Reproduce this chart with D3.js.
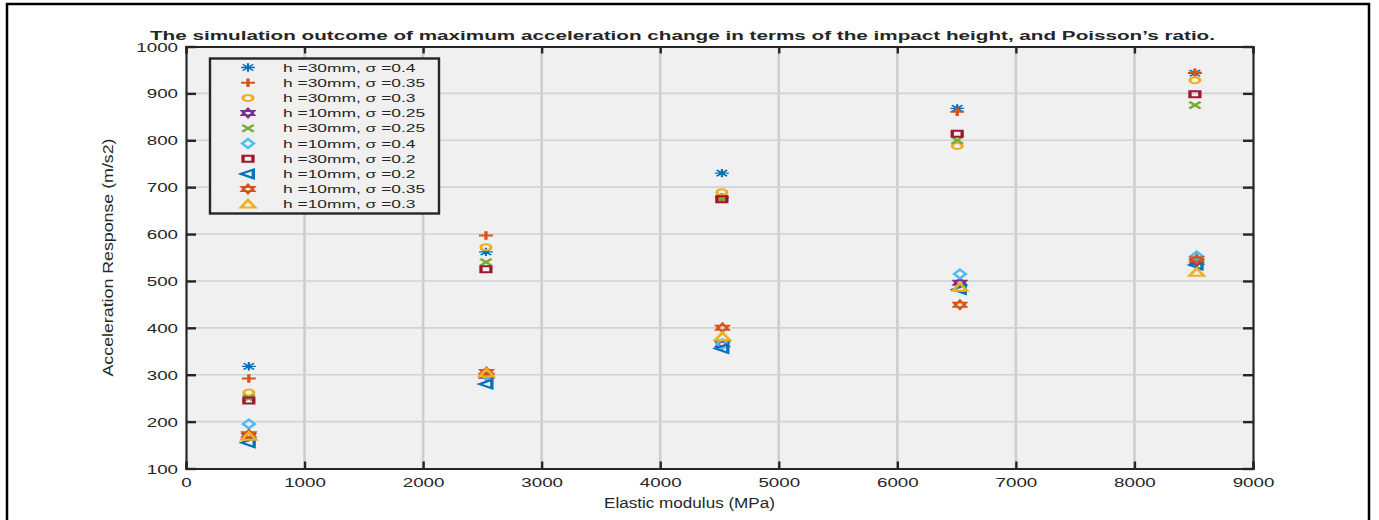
<!DOCTYPE html>
<html><head><meta charset="utf-8">
<script src="https://cdn.jsdelivr.net/npm/d3@7"></script>
<style>
html,body{margin:0;padding:0;background:#fff;}
svg{display:block;}
text{font-family:"Liberation Sans",Arial,sans-serif;fill:#262626;}
</style></head>
<body>
<svg id="chart" width="1379" height="520"></svg>
<script>
// ---------- data ----------
const titleText = "The simulation outcome of maximum acceleration change in terms of the impact height, and Poisson\u2019s ratio.";
const xLabel = "Elastic modulus (MPa)";
const yLabel = "Acceleration Response (m/s2)";
const xTicks = [0,1000,2000,3000,4000,5000,6000,7000,8000,9000];
const yTicks = [100,200,300,400,500,600,700,800,900,1000];

const seriesNames = [
  "h =30mm, \u03c3 =0.4",
  "h =30mm, \u03c3 =0.35",
  "h =30mm, \u03c3 =0.3",
  "h =10mm, \u03c3 =0.25",
  "h =30mm, \u03c3 =0.25",
  "h =10mm, \u03c3 =0.4",
  "h =30mm, \u03c3 =0.2",
  "h =10mm, \u03c3 =0.2",
  "h =10mm, \u03c3 =0.35",
  "h =10mm, \u03c3 =0.3"
];
const seriesMarkers = ["asterisk","plus","circle","hexagram","cross","diamond","square","triLeft","hexagram","triUp"];
const seriesColors = ["#0072BD","#D95319","#EDB120","#7E2F8E","#77AC30","#4DBEEE","#A2142F","#0072BD","#D95319","#EDB120"];

const modulus30 = [530, 2530, 4520, 6505, 8510];
const modulus10 = [530, 2535, 4525, 6528, 8525];

const s30_040 = [318, 562, 730, 868, 943];
const s30_035 = [292, 597, 678, 861, 944];
const s30_030 = [262, 572, 689, 788, 928];
const s10_025 = [170, 298, 365, 496, 541];
const s30_025 = [250, 540, 676, 800, 875];
const s10_040 = [195, 300, 366, 515, 553];
const s30_020 = [245, 525, 674, 814, 898];
const s10_020 = [155, 280, 356, 482, 534];
const s10_035 = [173, 306, 400, 449, 546];
const s10_030 = [168, 303, 381, 486, 518];

const seriesValues = [s30_040, s30_035, s30_030, s10_025, s30_025, s10_040, s30_020, s10_020, s10_035, s10_030];
const seriesX = [modulus30, modulus30, modulus30, modulus10, modulus30, modulus10, modulus30, modulus10, modulus10, modulus10];

// ---------- layout ----------
const svg = d3.select("#chart");
const L = 186, R = 1253, T = 46.5, B = 468.5;
const x = d3.scaleLinear().domain([0, 9000]).range([L, R]);
const y = d3.scaleLinear().domain([100, 1000]).range([B, T]);
const axisColor = "#262626";
const markerSX = 1.65;

function stretch(sel, sx){
  sel.each(function(){
    const len = this.getComputedTextLength();
    d3.select(this).attr("textLength", len*sx).attr("lengthAdjust","spacingAndGlyphs");
  });
}

// figure frame
svg.append("path").attr("d", `M7,520 V4 H1369 V520`).attr("fill","none").attr("stroke","#000").attr("stroke-width",2.5);

// plot background
svg.append("rect").attr("x",L).attr("y",T).attr("width",R-L).attr("height",B-T).attr("fill","#f0f0f0");

// grid
const grid = svg.append("g");
grid.selectAll("line.v").data(xTicks.filter(d=>d>0 && d<9000)).join("line")
  .attr("x1",d=>x(d)).attr("x2",d=>x(d)).attr("y1",T).attr("y2",B)
  .attr("stroke","#cdcdcd").attr("stroke-width",2.6);
grid.selectAll("line.h").data(yTicks.filter(d=>d>100 && d<1000)).join("line")
  .attr("y1",d=>y(d)).attr("y2",d=>y(d)).attr("x1",L).attr("x2",R)
  .attr("stroke","#d2d2d2").attr("stroke-width",1.6);

// axes with inward ticks
const gx = svg.append("g").attr("transform",`translate(0,${B})`)
  .call(d3.axisBottom(x).tickValues(xTicks).tickSize(-7).tickPadding(10).tickFormat(d3.format("d")));
const gxTop = svg.append("g").attr("transform",`translate(0,${T})`)
  .call(d3.axisTop(x).tickValues(xTicks).tickSize(-7).tickFormat(""));
const gy = svg.append("g").attr("transform",`translate(${L},0)`)
  .call(d3.axisLeft(y).tickValues(yTicks).tickSize(-10).tickPadding(8).tickFormat(d3.format("d")));
const gyR = svg.append("g").attr("transform",`translate(${R},0)`)
  .call(d3.axisRight(y).tickValues(yTicks).tickSize(-10).tickFormat(""));
[gx,gxTop,gy,gyR].forEach(g=>{
  g.select(".domain").attr("stroke",axisColor).attr("stroke-width",2.2);
  g.selectAll(".tick line").attr("stroke",axisColor).attr("stroke-width",2.4);
  g.selectAll(".tick text").attr("fill",axisColor).style("font-size","12.5px").style("font-family","Liberation Sans, Arial, sans-serif");
});
gx.selectAll(".tick text").attr("dy","0.71em");
gy.selectAll(".tick text").attr("dy","0.36em");
stretch(gx.selectAll(".tick text"), 1.5);
stretch(gy.selectAll(".tick text"), 1.5);

// title
const title = svg.append("text").attr("x",150).attr("y",40)
  .style("font-weight","bold").style("font-size","13.5px").attr("fill","#000")
  .text(titleText);
title.attr("textLength",1065).attr("lengthAdjust","spacingAndGlyphs");

// axis labels
svg.append("text").attr("x",(L+R)/2 - 30).attr("y",508).attr("text-anchor","middle")
  .style("font-size","14px").text(xLabel).call(s=>stretch(s,1.22));
svg.append("text").attr("transform",`translate(113,${(T+B)/2}) rotate(-90)`).attr("text-anchor","middle")
  .style("font-size","14px").text(yLabel).attr("textLength",238).attr("lengthAdjust","spacingAndGlyphs");

// ---------- markers ----------
function markerPath(type){
  const p = d3.path();
  switch(type){
    case "asterisk": {
      const r=4.2;
      p.moveTo(0,-r); p.lineTo(0,r);
      p.moveTo(-r,0); p.lineTo(r,0);
      const d=r*0.75;
      p.moveTo(-d,-d); p.lineTo(d,d);
      p.moveTo(-d,d); p.lineTo(d,-d);
      break;}
    case "plus": { const r=4.2; p.moveTo(0,-r); p.lineTo(0,r); p.moveTo(-r,0); p.lineTo(r,0); break;}
    case "cross": { const r=3.4; p.moveTo(-r,-r); p.lineTo(r,r); p.moveTo(-r,r); p.lineTo(r,-r); break;}
    case "circle": { p.arc(0,0,3.0,0,2*Math.PI); p.closePath(); break;}
    case "diamond": { const r=4.4; p.moveTo(0,-r); p.lineTo(r*0.8,0); p.lineTo(0,r); p.lineTo(-r*0.8,0); p.closePath(); break;}
    case "square": { const r=3.0; p.rect(-r,-r,2*r,2*r); break;}
    case "triLeft": { const r=4.3; p.moveTo(-r,0); p.lineTo(r*0.75,-r); p.lineTo(r*0.75,r); p.closePath(); break;}
    case "triUp": { const r=4.3; p.moveTo(0,-r); p.lineTo(r,r*0.75); p.lineTo(-r,r*0.75); p.closePath(); break;}
    case "hexagram": {
      const ro=4.0, ri=2.3;
      for(let i=0;i<12;i++){
        const a = -Math.PI/2 + i*Math.PI/6;
        const rr = i%2===0?ro:ri;
        const px=rr*Math.cos(a), py=rr*Math.sin(a);
        if(i===0) p.moveTo(px,py); else p.lineTo(px,py);
      }
      p.closePath(); break;}
  }
  return p.toString();
}
const markerStroke = t => t==="asterisk" ? 1.3 : 2;

const pts = svg.append("g");
seriesValues.forEach((vals,si)=>{
  const data = vals.map((v,i)=>({xv:seriesX[si][i], yv:v}));
  pts.append("g").selectAll("path").data(data).join("path")
    .attr("d", markerPath(seriesMarkers[si]))
    .attr("transform", d=>`translate(${x(d.xv)},${y(d.yv)}) scale(${markerSX},1)`)
    .attr("fill","none").attr("stroke",seriesColors[si]).attr("stroke-width",markerStroke(seriesMarkers[si]))
    .attr("stroke-linejoin","miter");
});

// ---------- legend ----------
const lg = svg.append("g");
lg.append("rect").attr("x",210).attr("y",58.5).attr("width",229).attr("height",155)
  .attr("fill","#f0f0f0").attr("stroke","#262626").attr("stroke-width",2.4);
seriesNames.forEach((name,i)=>{
  const yy = 67.5 + i*15.2;
  lg.append("path").attr("d",markerPath(seriesMarkers[i]))
    .attr("transform",`translate(248,${yy}) scale(${markerSX},1)`)
    .attr("fill","none").attr("stroke",seriesColors[i]).attr("stroke-width",markerStroke(seriesMarkers[i]));
  lg.append("text").attr("x",283).attr("y",yy+4).style("font-size","11px").attr("fill","#000")
    .text(name).call(s=>stretch(s,1.58));
});
</script>
</body></html>
